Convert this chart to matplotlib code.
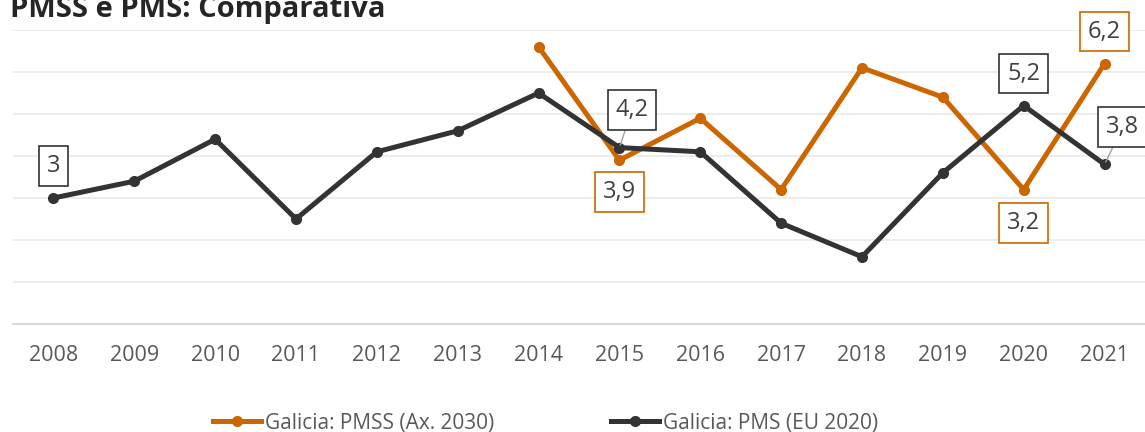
import matplotlib
matplotlib.use("Agg")
import matplotlib.pyplot as plt
from matplotlib.lines import Line2D

# ---------------------------------
# Data
# ---------------------------------
years = ["2008", "2009", "2010", "2011", "2012", "2013", "2014",
         "2015", "2016", "2017", "2018", "2019", "2020", "2021"]

# Galicia: PMS (EU 2020) - full series
pms = [3.0, 3.4, 4.4, 2.5, 4.1, 4.6, 5.5, 4.2, 4.1, 2.4, 1.6, 3.6, 5.2, 3.8]

# Galicia: PMSS (Ax. 2030) - starts in 2014
pmss_years = ["2014", "2015", "2016", "2017", "2018", "2019", "2020", "2021"]
pmss = [6.6, 3.9, 4.9, 3.2, 6.1, 5.4, 3.2, 6.2]

# which points carry a data label
pms_labels = {"2008": "3", "2015": "4,2", "2020": "5,2", "2021": "3,8"}
pmss_labels = {"2015": "3,9", "2020": "3,2", "2021": "6,2"}

ORANGE = "#CC6600"
DARK = "#333333"
TXT = "#595959"

plt.rcParams["font.family"] = ["Open Sans", "DejaVu Sans"]

fig = plt.figure(figsize=(11.45, 4.32), dpi=100)
ax = fig.add_axes([13 / 1145, 108 / 432, 1 - 13 / 1145, 294 / 432])

x_all = list(range(len(years)))
x_pmss = [years.index(y) for y in pmss_years]

ax.plot(x_pmss, pmss, color=ORANGE, lw=3.6, marker="o", ms=7, zorder=3)
ax.plot(x_all, pms, color=DARK, lw=3.6, marker="o", ms=7, zorder=4)

ax.set_xlim(-0.5, 13.5)
ax.set_ylim(0, 7)
ax.set_yticks(range(1, 8))
ax.set_yticklabels([])
ax.set_xticks(x_all)
ax.set_xticklabels(years, fontsize=15.5, color=TXT)
ax.tick_params(axis="both", length=0)
ax.tick_params(axis="x", pad=15)
ax.grid(axis="y", color="#EBEBEB", lw=1.3)
ax.set_axisbelow(True)
for s in ["top", "left", "right"]:
    ax.spines[s].set_visible(False)
ax.spines["bottom"].set_color("#D9D9D9")
ax.spines["bottom"].set_linewidth(1.5)


# ---------------------------------
# Data labels (offsets in points)
# ---------------------------------
def add_label(x, y, text, color, dx, dy, leader=False):
    ax.annotate(
        text, xy=(x, y), xytext=(dx, dy), textcoords="offset points",
        ha="center", va="center", fontsize=17, color="#404040", zorder=6,
        bbox=dict(boxstyle="square,pad=0.33", fc="white", ec=color, lw=1.2),
        arrowprops=dict(arrowstyle="-", color="#A0A0A0", lw=1,
                        shrinkA=0, shrinkB=2) if leader else None,
    )


offsets_pms = {"2008": (0, 23, False), "2015": (9, 27, True),
               "2020": (0, 23, False), "2021": (13, 27, True)}
for yr, txt in pms_labels.items():
    i = years.index(yr)
    dx, dy, ld = offsets_pms[yr]
    add_label(i, pms[i], txt, DARK, dx, dy, ld)

offsets_pmss = {"2015": (0, -23), "2020": (0, -24), "2021": (0, 23)}
for yr, txt in pmss_labels.items():
    i = years.index(yr)
    v = pmss[pmss_years.index(yr)]
    dx, dy = offsets_pmss[yr]
    add_label(i, v, txt, ORANGE, dx, dy)

# ---------------------------------
# Title + legend
# ---------------------------------
fig.text(10 / 1145, 1 - 17 / 432, "PMSS e PMS: Comparativa", fontsize=21,
         fontweight="bold", color="#252525", ha="left", va="baseline")

handles = [
    Line2D([0], [0], color=ORANGE, lw=3.6, marker="o", ms=7),
    Line2D([0], [0], color=DARK, lw=3.6, marker="o", ms=7),
]
fig.legend(handles, ["Galicia: PMSS (Ax. 2030)", "Galicia: PMS (EU 2020)"],
           loc="center", bbox_to_anchor=(546 / 1145, 1 - 423 / 432), ncol=2,
           frameon=False, fontsize=15, labelcolor=TXT, handlelength=2.3,
           handletextpad=0.2, columnspacing=5.6, numpoints=1)

fig.savefig("out.png", dpi=100)
